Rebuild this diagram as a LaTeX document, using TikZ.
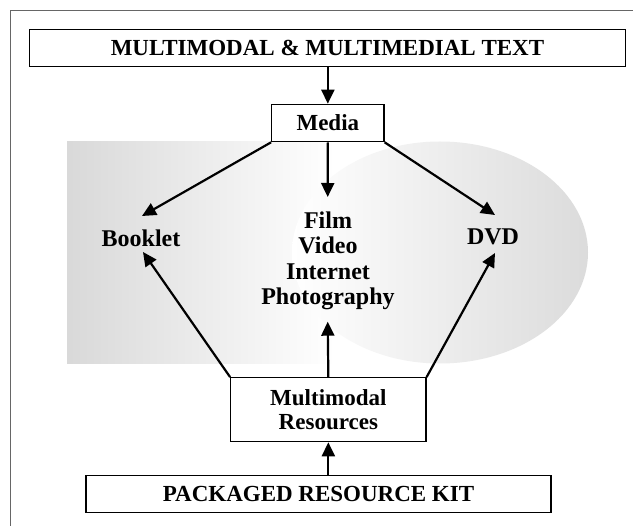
\documentclass[tikz,border=0pt]{standalone}
\usepackage{fontspec}
\setmainfont{Liberation Serif}
\usetikzlibrary{arrows.meta}
\tikzset{
  boxnode/.style={draw=black, line width=1.2pt, inner sep=0pt, align=center,
    font=\fontsize{23}{24.6}\selectfont\bfseries},
  freetext/.style={inner sep=0pt, align=center,
    font=\fontsize{24}{25.4}\selectfont\bfseries},
  arr/.style={line width=2.2pt, -{Triangle[length=14pt,width=13pt]}},
  frameline/.style={draw=black!60, line width=1.6pt}
}
\begin{document}
\begin{tikzpicture}[x=1pt,y=-1pt]
\useasboundingbox (0,0) rectangle (633,526);
\clip (0,0) rectangle (633,526);
\fill[white] (0,0) rectangle (633,526);
% background shapes
\shade[left color=black!15, right color=white] (67,142) rectangle (335,364);
\shade[left color=white, right color=black!14] (440,252.5) ellipse [x radius=148, y radius=111];
% frame
\draw[frameline] (10.5,560) -- (10.5,10.5) -- (660,10.5);
% nodes
\node[boxnode, minimum width=596pt, minimum height=37.4pt] (top) at (327.5,48) {MULTIMODAL \& MULTIMEDIAL TEXT};
\node[boxnode, minimum width=112.3pt, minimum height=37.4pt] (media) at (327.85,123) {Media};
\node[boxnode, minimum width=195.3pt, minimum height=64pt] (mr) at (328.35,409.7) {Multimodal\\Resources};
\node[boxnode, minimum width=465pt, minimum height=37pt] (bottom) at (318.5,494.2) {PACKAGED RESOURCE KIT};
\node[freetext, anchor=base] (booklet) at (141,246.7) {Booklet};
\node[freetext, anchor=base] (dvd) at (493,245) {DVD};
\node[freetext] (film) at (328,261) {Film\\Video\\Internet\\Photography};
% arrow end points
\coordinate (bkTop) at (142,216);
\coordinate (bkBot) at (143,252);
\coordinate (dvdTop) at (495,215);
\coordinate (dvdBot) at (495,253);
\coordinate (filmTop) at (327.7,197);
\coordinate (filmBot) at (327.7,321.7);
% connectors
\draw[arr] (top.south -| media.north) -- (media.north);
\draw[arr] (media.south west) -- (bkTop);
\draw[arr] (media.south east) -- (dvdTop);
\draw[arr] (media.south) -- (filmTop);
\draw[arr] (mr.north) -- (filmBot);
\draw[arr] (mr.north west) -- (bkBot);
\draw[arr] (mr.north east) -- (dvdBot);
\draw[arr] (mr.south |- bottom.north) -- (mr.south);
\end{tikzpicture}
\end{document}
